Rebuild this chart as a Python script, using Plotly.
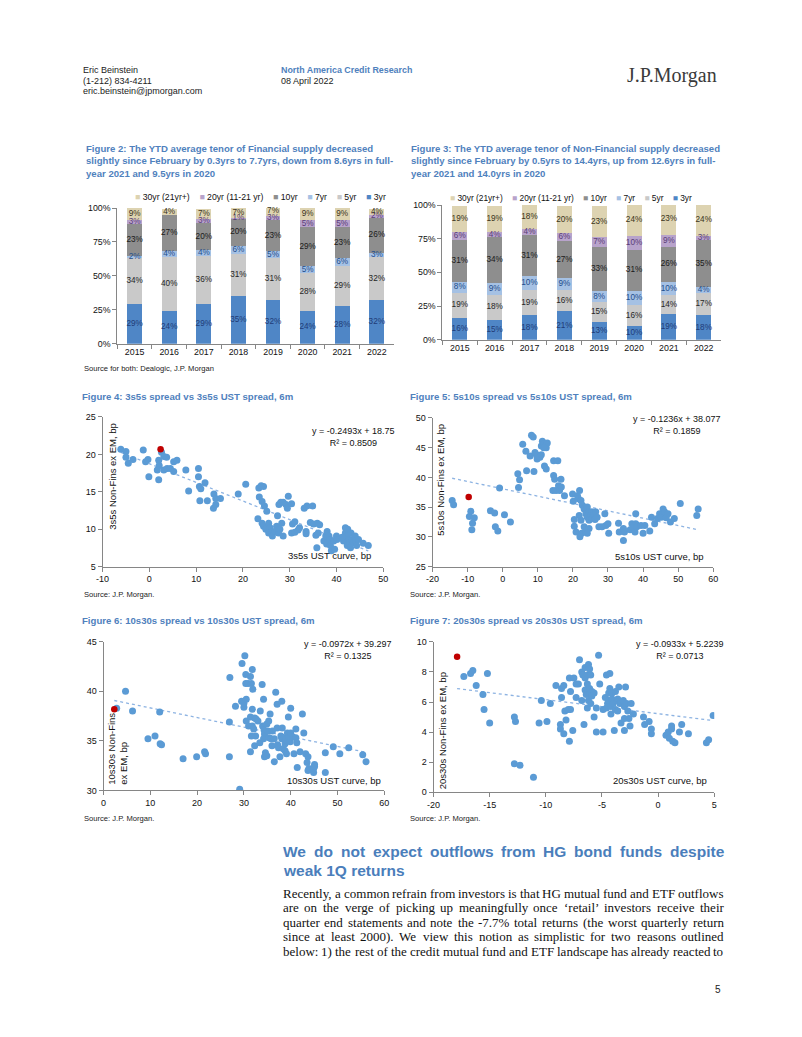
import plotly.graph_objects as go

W, H = 802, 1037

# ------------------------------------------------------------------ data
years = ["2015", "2016", "2017", "2018", "2019", "2020", "2021", "2022"]
tenor_names = ["3yr", "5yr", "7yr", "10yr", "20yr (11-21 yr)", "30yr (21yr+)"]
tenor_colors = ["#4f86c6", "#c9c9c9", "#a5c1e4", "#8e8e8e", "#b8a3cb", "#ddd3b1"]
label_colors = ["#1f3c78", "#262626", "#1f4e8c", "#1a1a1a", "#5a3d78", "#3b3320"]
pct_ticks = [0, 25, 50, 75, 100]

# Figure 2: Financial supply (% by tenor)
fin_3yr = [29, 24, 29, 35, 32, 24, 28, 32]
fin_5yr = [34, 40, 36, 31, 31, 28, 29, 32]
fin_7yr = [2, 4, 4, 6, 5, 5, 6, 3]
fin_10yr = [23, 27, 20, 20, 23, 29, 23, 26]
fin_20yr = [3, 0, 3, 1, 3, 5, 5, 2]
fin_30yr = [9, 4, 7, 7, 7, 9, 9, 4]

# Figure 3: Non-Financial supply (% by tenor)
nf_3yr = [16, 15, 18, 21, 13, 10, 19, 18]
nf_5yr = [19, 18, 19, 16, 15, 16, 14, 17]
nf_7yr = [8, 9, 10, 9, 8, 10, 10, 4]
nf_10yr = [31, 34, 31, 27, 33, 31, 26, 35]
nf_20yr = [6, 4, 4, 6, 7, 10, 9, 3]
nf_30yr = [19, 19, 18, 20, 23, 24, 23, 24]

# Figure 4: 3s5s
f4_x = [-6.1, -5.0, -5.0, -4.5, -3.5, -1.3, -0.8, -0.3, -0.1, 2.0, 2.1, 2.0, 1.7, 2.6, 3.1, 3.7, 3.1, 3.8, 4.5, 5.2,
        5.9, 5.2, 7.8, 8.4, 10.5, 10.5, 10.7, 11.0, 10.8, 11.9, 12.4, 13.8, 14.2, 13.7, 14.2, 15.2, 19.0, 20.6, 23.2, 23.4,
        23.9, 24.4, 23.5, 24.1, 24.6, 25.1, 24.1, 24.4, 24.9, 25.5, 25.8, 25.5, 26.2, 26.3, 26.9, 27.2, 27.6, 27.9, 28.3, 28.6,
        27.4, 27.7, 28.1, 28.6, 29.2, 29.7, 29.5, 30.4, 30.6, 31.1, 30.4, 31.1, 31.8, 32.1, 33.5, 33.5, 33.1, 33.7, 34.9, 34.4,
        35.1, 35.9, 36.4, 35.6, 36.1, 35.8, 37.3, 37.7, 38.0, 37.9, 38.4, 38.6, 38.7, 38.9, 39.4, 40.0, 40.1, 39.6, 41.5, 41.9,
        41.9, 42.3, 42.4, 42.3, 42.6, 42.8, 43.1, 43.3, 43.6, 44.0, 44.2, 44.3, 44.7, 45.7, 46.8, 43.0, 41.2]
f4_y = [20.7, 20.4, 19.6, 18.8, 19.3, 20.6, 19.0, 19.3, 17.0, 19.2, 18.5, 16.6, 17.9, 20.3, 19.7, 19.6, 17.9, 18.1, 18.1, 19.0,
        19.2, 17.7, 17.9, 15.1, 18.1, 17.0, 15.7, 15.4, 13.8, 16.2, 13.8, 14.7, 14.1, 12.8, 13.3, 14.1, 14.7, 16.0, 11.4, 15.5,
        15.8, 15.7, 14.3, 13.7, 13.1, 12.4, 10.8, 10.4, 10.0, 10.8, 10.2, 9.5, 9.7, 9.1, 9.7, 10.4, 9.5, 10.0, 10.8, 9.1,
        11.8, 13.3, 13.6, 13.6, 13.3, 14.4, 12.8, 13.4, 10.7, 11.0, 9.5, 9.6, 9.9, 10.2, 9.7, 9.4, 12.8, 13.1, 13.1, 10.9,
        10.7, 10.8, 10.6, 9.2, 9.5, 7.5, 8.4, 9.1, 9.7, 8.0, 9.1, 8.6, 7.8, 7.1, 8.4, 9.1, 8.6, 7.3, 8.4, 10.2,
        9.5, 9.1, 10.0, 7.8, 8.6, 8.2, 9.5, 8.6, 8.2, 9.1, 8.4, 7.8, 8.6, 8.1, 7.8, 7.5, 8.9]
f4_last_x = [2.4]
f4_last_y = [20.7]
f4_slope, f4_icpt, f4_r2 = -0.2493, 18.75, "0.8509"

# Figure 5: 5s10s
f5_x = [-14.4, -14.0, -9.5, -9.1, -8.6, -8.8, -8.1, -3.5, -2.3, -2.1, -1.4, -0.9, 0.5, 2.2, 4.5, 4.8, 4.3, 5.7, 6.6, 6.8,
        7.8, 8.2, 8.7, 8.9, 9.2, 9.6, 9.8, 10.6, 11.0, 11.3, 11.7, 12.4, 12.7, 11.9, 12.4, 11.0, 11.7, 14.5, 15.7, 14.5,
        14.8, 14.3, 15.2, 15.9, 16.6, 16.2, 16.7, 17.6, 19.9, 20.1, 20.4, 20.4, 20.9, 21.3, 21.6, 21.9, 22.3, 21.8, 22.3, 22.0,
        22.5, 22.7, 23.2, 23.2, 23.7, 23.7, 24.1, 24.1, 24.6, 24.6, 25.1, 25.4, 25.5, 26.0, 26.5, 26.3, 26.9, 24.6, 24.1, 27.4,
        28.3, 29.1, 29.4, 30.0, 30.2, 33.0, 33.2, 34.4, 34.4, 34.7, 36.3, 36.8, 37.2, 37.9, 37.9, 37.7, 38.2, 39.4, 40.0, 40.5,
        41.9, 42.4, 43.3, 44.1, 44.7, 45.2, 45.7, 46.1, 46.6, 47.1, 47.8, 48.9, 50.6, 55.3, 55.7]
f5_y = [36.1, 35.4, 33.4, 34.3, 32.3, 31.2, 33.2, 34.4, 34.0, 31.7, 31.0, 38.2, 33.7, 32.5, 38.3, 39.6, 40.6, 45.6, 44.4, 41.1,
        43.6, 47.1, 46.8, 41.0, 44.2, 43.8, 43.1, 43.4, 45.3, 46.1, 45.7, 45.0, 45.8, 41.9, 41.4, 43.8, 45.0, 42.8, 42.8, 40.3,
        39.7, 37.8, 37.8, 38.6, 39.7, 37.8, 38.4, 36.9, 37.2, 36.0, 32.9, 31.8, 30.8, 36.9, 36.4, 37.8, 36.1, 33.6, 32.8, 30.0,
        30.6, 35.3, 34.7, 31.7, 33.9, 30.8, 35.0, 33.3, 34.2, 32.8, 33.6, 34.2, 33.1, 33.8, 34.2, 32.9, 33.3, 31.4, 30.6, 31.7,
        31.7, 33.9, 31.9, 32.2, 30.6, 32.3, 30.8, 31.4, 29.4, 30.8, 31.2, 32.2, 31.7, 33.9, 32.2, 30.8, 31.7, 31.9, 30.6, 31.9,
        31.0, 33.3, 32.2, 33.1, 33.9, 33.3, 34.7, 34.2, 33.2, 33.9, 32.5, 33.1, 35.6, 33.6, 34.7]
f5_last_x = [-9.7]
f5_last_y = [36.7]
f5_slope, f5_icpt, f5_r2 = -0.1236, 38.077, "0.1859"

# Figure 6: 10s30s
f6_x = [2.8, 4.7, 6.2, 9.5, 11.0, 12.0, 12.1, 12.4, 17.0, 19.9, 21.6, 21.8, 27.0, 26.9, 26.9, 28.2, 29.1, 29.6, 30.2, 29.5,
        30.0, 30.0, 30.4, 30.5, 30.4, 30.9, 30.5, 31.0, 31.4, 31.8, 31.6, 31.9, 31.8, 31.4, 32.3, 32.6, 31.8, 32.1, 32.5, 31.6,
        31.4, 32.3, 33.0, 33.4, 33.5, 33.9, 34.2, 34.0, 34.3, 34.4, 34.2, 34.6, 34.4, 34.9, 34.9, 35.3, 35.1, 35.4, 35.8, 35.6,
        36.0, 36.1, 36.5, 36.5, 36.8, 37.1, 37.1, 37.2, 37.4, 37.7, 37.9, 38.1, 38.2, 38.1, 38.4, 38.6, 38.8, 38.8, 38.9, 39.1,
        39.3, 39.5, 39.6, 39.9, 40.0, 40.0, 40.4, 40.7, 41.1, 41.1, 41.3, 41.4, 42.0, 42.5, 42.8, 43.2, 43.5, 43.7, 43.7, 43.9,
        44.9, 44.9, 45.1, 45.1, 47.4, 47.4, 49.1, 50.5, 52.4, 55.4, 56.1]
f6_y = [38.3, 40.0, 38.0, 35.2, 35.5, 37.9, 34.7, 34.6, 33.2, 33.4, 33.9, 33.7, 41.4, 36.9, 33.4, 38.5, 30.1, 42.8, 43.6, 39.0,
        38.4, 38.8, 41.7, 39.2, 40.8, 40.8, 37.0, 36.5, 41.5, 42.2, 40.8, 40.2, 38.2, 37.4, 37.3, 37.2, 36.5, 36.2, 35.5, 35.5,
        33.9, 34.5, 37.0, 34.8, 38.0, 40.7, 39.2, 36.5, 36.1, 35.7, 35.2, 33.8, 33.4, 33.5, 36.7, 37.0, 36.0, 35.3, 35.2, 37.7,
        34.5, 36.0, 35.2, 32.9, 39.9, 38.7, 36.3, 34.6, 34.3, 33.4, 35.5, 39.0, 36.3, 35.2, 34.2, 35.3, 34.7, 34.0, 35.1, 33.7,
        35.8, 37.4, 35.4, 34.9, 38.3, 35.8, 35.4, 33.7, 36.2, 35.3, 34.8, 32.3, 33.9, 37.7, 35.8, 33.7, 32.8, 33.4, 32.0, 32.2,
        32.2, 31.8, 32.6, 32.4, 33.8, 31.8, 34.4, 33.7, 34.3, 33.6, 32.9]
f6_last_x = [2.3]
f6_last_y = [38.2]
f6_slope, f6_icpt, f6_r2 = -0.0972, 39.297, "0.1325"

# Figure 7: 20s30s
f7_x = [-17.3, -16.7, -16.5, -16.2, -15.2, -15.6, -15.5, -15.0, -12.8, -12.7, -12.8, -12.3, -11.1, -10.6, -10.4, -9.9, -9.6,
        -9.1, -8.7, -8.7, -8.6, -8.6, -8.4, -8.4, -8.3, -8.2, -8.0, -7.9, -7.9, -7.8, -7.8, -7.6, -7.5, -7.3, -7.3, -7.1,
        -7.0, -6.8, -6.8, -6.7, -6.6, -6.5, -6.5, -6.5, -6.4, -6.3, -6.3, -6.3, -6.2, -6.2, -6.1, -6.1, -6.1, -6.0, -6.0,
        -5.9, -5.9, -5.7, -5.7, -5.3, -5.2, -5.5, -5.5, -4.9, -4.9, -4.7, -4.6, -4.3, -4.6, -4.5, -4.4, -4.4, -4.3, -4.2,
        -4.2, -4.1, -4.1, -4.0, -3.9, -3.8, -3.8, -3.7, -3.6, -3.6, -3.5, -3.4, -3.3, -3.3, -3.1, -3.0, -3.0, -3.0, -2.9,
        -2.8, -2.7, -2.6, -2.5, -2.4, -2.2, -1.3, -1.2, -0.8, -0.6, -0.6, 0.7, 0.9, 1.0, 1.2, 1.2, 1.3, 1.5, 1.9, 2.1, 2.7,
        4.3, 4.5, 4.9]
f7_y = [7.7, 7.9, 8.1, 7.1, 7.9, 6.5, 5.5, 4.6, 5.0, 4.7, 1.9, 1.8, 1.0, 4.6, 6.1, 4.7, 5.9,
        7.1, 4.5, 4.2, 6.3, 6.9, 7.1, 3.9, 5.4, 4.8, 5.5, 7.6, 3.4, 5.5, 6.7, 4.1, 7.6, 6.3, 7.2, 7.2,
        8.8, 6.1, 8.0, 7.8, 4.5, 8.3, 7.6, 6.8, 6.5, 7.8, 5.6, 7.2, 6.1, 8.5, 8.2, 6.9, 6.5, 5.9, 7.8,
        6.7, 6.4, 5.0, 6.6, 9.1, 7.2, 5.6, 4.0, 4.0, 5.5, 6.3, 7.8, 7.9, 5.6, 5.9, 6.6, 6.1, 6.9, 5.7,
        5.2, 6.2, 6.6, 5.9, 4.1, 6.7, 5.5, 6.1, 6.2, 5.4, 7.0, 5.9, 4.6, 6.0, 6.1, 5.7, 4.9, 4.1, 7.0,
        5.9, 5.4, 4.9, 4.4, 5.9, 5.2, 5.0, 4.5, 4.7, 4.2, 3.9, 3.8, 4.0, 3.6, 4.2, 4.4, 3.4, 3.3, 4.0, 4.5, 3.9,
        3.3, 3.5, 5.1]
f7_last_x = [-17.9]
f7_last_y = [9.0]
f7_slope, f7_icpt, f7_r2 = -0.0933, 5.2239, "0.0713"

# ------------------------------------------------------------------ styling
SANS = "Liberation Sans, Arial, sans-serif"
SERIF = "Liberation Serif, Times New Roman, serif"
BLUE_T = "#4f81bd"
AXIS_C = "#868686"
PT_C = "#5b9bd5"
LAST_C = "#c00000"
TREND_C = "#8db3e2"


def dx(a, b):
    return [a / W, b / W]


def dy(top, bot):
    return [1 - bot / H, 1 - top / H]


fig = go.Figure()
annotations = []


def ann(text, x, y, size=9, color="#222", xanchor="left", yanchor="middle", family=SANS,
        textangle=0, align="left"):
    annotations.append(dict(text=text, x=x / W, y=1 - y / H, xref="paper", yref="paper",
                            showarrow=False, xanchor=xanchor, yanchor=yanchor, align=align,
                            textangle=textangle, borderpad=0,
                            font=dict(family=family, size=size, color=color)))


# ------------------------------------------------------------------ bar charts
def add_bars(series, xa, ya):
    cum = [0] * len(years)
    for name, vals, col, lcol in zip(tenor_names, series, tenor_colors, label_colors):
        fig.add_trace(go.Bar(x=years, y=vals, name=name, marker=dict(color=col, line=dict(width=0)),
                             xaxis=xa, yaxis=ya, showlegend=False))
        mids = [c + v / 2 for c, v in zip(cum, vals)]
        txt = [f"{v}%" if v > 0 else "" for v in vals]
        fig.add_trace(go.Scatter(x=years, y=mids, text=txt, mode="text", xaxis=xa, yaxis=ya,
                                 textfont=dict(family=SANS, size=8.2, color=lcol),
                                 showlegend=False, hoverinfo="skip", cliponaxis=False))
        cum = [c + v for c, v in zip(cum, vals)]


add_bars([fin_3yr, fin_5yr, fin_7yr, fin_10yr, fin_20yr, fin_30yr], "x", "y")
add_bars([nf_3yr, nf_5yr, nf_7yr, nf_10yr, nf_20yr, nf_30yr], "x2", "y2")


# ------------------------------------------------------------------ scatters
def add_scatter(xs, ys, lx, ly, slope, icpt, xa, ya):
    x0, x1 = min(xs + lx), max(xs + lx)
    fig.add_trace(go.Scatter(x=[x0, x1], y=[slope * x0 + icpt, slope * x1 + icpt], mode="lines",
                             line=dict(color=TREND_C, width=1.3, dash="dot"), xaxis=xa, yaxis=ya,
                             showlegend=False, hoverinfo="skip"))
    fig.add_trace(go.Scatter(x=xs, y=ys, mode="markers", marker=dict(size=7, color=PT_C),
                             xaxis=xa, yaxis=ya, showlegend=False))
    fig.add_trace(go.Scatter(x=lx, y=ly, mode="markers", marker=dict(size=6.5, color=LAST_C),
                             xaxis=xa, yaxis=ya, showlegend=False))


add_scatter(f4_x, f4_y, f4_last_x, f4_last_y, f4_slope, f4_icpt, "x3", "y3")
add_scatter(f5_x, f5_y, f5_last_x, f5_last_y, f5_slope, f5_icpt, "x4", "y4")
add_scatter(f6_x, f6_y, f6_last_x, f6_last_y, f6_slope, f6_icpt, "x5", "y5")
add_scatter(f7_x, f7_y, f7_last_x, f7_last_y, f7_slope, f7_icpt, "x6", "y6")

# ------------------------------------------------------------------ axes
common = dict(showline=True, linecolor=AXIS_C, linewidth=1, ticks="outside", ticklen=4,
              tickcolor=AXIS_C, showgrid=False, zeroline=False,
              tickfont=dict(family=SANS, size=9, color="#111"))

bar_x = dict(common, type="category", tickson="boundaries", tickfont=dict(family=SANS, size=8.8, color="#111"))
bar_y = dict(common, range=[0, 100], tickmode="array", tickvals=pct_ticks,
             ticktext=[f"{v}%" for v in pct_ticks], tickfont=dict(family=SANS, size=8.8, color="#111"))


def lin(lo, hi, dt):
    vals = list(range(lo, hi + 1, dt))
    return dict(common, range=[lo, hi], tickmode="array", tickvals=vals, ticktext=[str(v) for v in vals])


layout_axes = dict(
    xaxis=dict(bar_x, domain=dx(112, 393), anchor="y"),
    yaxis=dict(bar_y, domain=dy(205, 342), anchor="x"),
    xaxis2=dict(bar_x, domain=dx(442, 725), anchor="y2"),
    yaxis2=dict(bar_y, domain=dy(202, 338), anchor="x2"),
    xaxis3=dict(lin(-10, 50, 10), domain=dx(97, 382), anchor="y3"),
    yaxis3=dict(lin(5, 25, 5), domain=dy(416, 567), anchor="x3"),
    xaxis4=dict(lin(-20, 60, 10), domain=dx(432, 717), anchor="y4"),
    yaxis4=dict(lin(25, 50, 5), domain=dy(417, 567), anchor="x4"),
    xaxis5=dict(lin(0, 60, 10), domain=dx(98, 383), anchor="y5"),
    yaxis5=dict(lin(30, 45, 5), domain=dy(643, 793), anchor="x5"),
    xaxis6=dict(lin(-20, 5, 5), domain=dx(433, 718), anchor="y6"),
    yaxis6=dict(lin(0, 10, 2), domain=dy(643, 795), anchor="x6"),
)

# ------------------------------------------------------------------ page text
ann("Eric Beinstein", 76, 66)
ann("(1-212) 834-4211", 76, 76.5)
ann("eric.beinstein@jpmorgan.com", 76, 87)
ann("<b>North America Credit Research</b>", 277, 66, size=8.9, color=BLUE_T)
ann("08 April 2022", 277, 76.5)
ann("J.P.Morgan", 628, 71, size=20, color="#3a3a3a", family=SERIF)

ann("<b>Figure 2: The YTD average tenor of Financial supply decreased<br>"
    "slightly since February by 0.3yrs to 7.7yrs, down from 8.6yrs in full-<br>"
    "year 2021 and 9.5yrs in 2020</b>", 79, 158, size=9.6, color=BLUE_T)
ann("<b>Figure 3: The YTD average tenor of Non-Financial supply decreased<br>"
    "slightly since February by 0.5yrs to 14.4yrs, up from 12.6yrs in full-<br>"
    "year 2021 and 14.0yrs in 2020</b>", 409, 158, size=9.6, color=BLUE_T)

gap = "&nbsp;" * 4
legend_txt = gap.join(f"<span style='color:{c}'>■</span> {n}" for n, c in
                      zip(reversed(tenor_names), reversed(tenor_colors)))
ann(legend_txt, 129, 194, size=8.7, color="#111")
ann(legend_txt, 449, 194.5, size=8.4, color="#111")
ann("Source for both: Dealogic, J.P. Morgan", 77, 367, size=7.6)

ann("<b>Figure 4: 3s5s spread vs 3s5s UST spread, 6m</b>", 75, 395, size=9.6, color=BLUE_T)
ann("<b>Figure 5: 5s10s spread vs 5s10s UST spread, 6m</b>", 408, 395, size=9.6, color=BLUE_T)
ann("<b>Figure 6: 10s30s spread vs 10s30s UST spread, 6m</b>", 75, 621, size=9.6, color=BLUE_T)
ann("<b>Figure 7: 20s30s spread vs 20s30s UST spread, 6m</b>", 408, 621, size=9.6, color=BLUE_T)
for xs_, ys_ in [(77, 595), (408, 595), (77, 821), (408, 821)]:
    ann("Source: J.P. Morgan.", xs_, ys_, size=7.6)

for slope, icpt, r2, cx, cy in [(f4_slope, f4_icpt, f4_r2, 352, 436),
                                (f5_slope, f5_icpt, f5_r2, 680, 424),
                                (f6_slope, f6_icpt, f6_r2, 346, 651),
                                (f7_slope, f7_icpt, f7_r2, 683, 651)]:
    ann(f"y = {slope}x + {icpt}<br>R² = {r2}", cx, cy, size=9, color="#111",
        xanchor="center", align="center")

ann("3s5s UST curve, bp", 327, 556, size=9.5, color="#111", xanchor="center")
ann("5s10s UST curve, bp", 662, 557, size=9.5, color="#111", xanchor="center")
ann("10s30s UST curve, bp", 332, 783, size=9.5, color="#111", xanchor="center")
ann("20s30s UST curve, bp", 663, 783, size=9.5, color="#111", xanchor="center")

ann("3s5s Non-Fins ex EM, bp", 107, 476, size=9.5, color="#111", xanchor="center",
    yanchor="middle", textangle=-90)
ann("5s10s Non-Fins ex EM, bp", 440, 479, size=9.5, color="#111", xanchor="center",
    yanchor="middle", textangle=-90)
ann("10s30s Non-Fins<br>ex EM, bp", 112, 788, size=9.5, color="#111", xanchor="center",
    yanchor="bottom", textangle=-90, align="left")
ann("20s30s Non-Fins ex EM, bp", 443, 733, size=9.5, color="#111", xanchor="center",
    yanchor="middle", textangle=-90)

# ------------------------------------------------------------------ justified body text
TIMES = {' ': 250, 'a': 444, 'b': 500, 'c': 444, 'd': 500, 'e': 444, 'f': 333, 'g': 500, 'h': 500, 'i': 278,
         'j': 278, 'k': 500, 'l': 278, 'm': 778, 'n': 500, 'o': 500, 'p': 500, 'q': 500, 'r': 333, 's': 389,
         't': 278, 'u': 500, 'v': 500, 'w': 722, 'x': 500, 'y': 500, 'z': 444, 'A': 722, 'B': 667, 'C': 667,
         'D': 722, 'E': 611, 'F': 556, 'G': 722, 'H': 722, 'I': 333, 'J': 389, 'K': 722, 'L': 611, 'M': 889,
         'N': 722, 'O': 722, 'P': 556, 'Q': 722, 'R': 667, 'S': 556, 'T': 611, 'U': 722, 'V': 722, 'W': 944,
         '.': 250, ',': 250, '-': 333, '(': 333, ')': 333, '%': 833, ':': 278, '‘': 333, '’': 333}
ARIALB = {' ': 278, 'a': 556, 'b': 611, 'c': 556, 'd': 611, 'e': 556, 'f': 333, 'g': 611, 'h': 611, 'i': 278,
          'j': 278, 'k': 556, 'l': 278, 'm': 889, 'n': 611, 'o': 611, 'p': 611, 'q': 611, 'r': 389, 's': 556,
          't': 333, 'u': 611, 'v': 556, 'w': 778, 'x': 556, 'y': 556, 'z': 500, 'G': 778, 'H': 722, 'Q': 778,
          'W': 944}


def wid(s, table, size):
    return sum(table.get(ch, 500) for ch in s) * size / 1000.0


def line_words(line, x0, x1, y, size, table, family, color, bold=False):
    words = line.split(" ")
    ws = [wid(w, table, size) for w in words]
    g = (x1 - x0 - sum(ws)) / (len(words) - 1)
    x = x0
    for w, wd in zip(words, ws):
        ann(f"<b>{w}</b>" if bold else w, x, y, size=size, color=color, family=family)
        x += wd + g


heading = ["We do not expect outflows from HG bond funds despite", "weak 1Q returns"]
body = ["Recently, a common refrain from investors is that HG mutual fund and ETF outflows",
        "are on the verge of picking up meaningfully once ‘retail’ investors receive their",
        "quarter end statements and note the -7.7% total returns (the worst quarterly return",
        "since at least 2000). We view this notion as simplistic for two reasons outlined",
        "below: 1) the rest of the credit mutual fund and ETF landscape has already reacted to"]
TX0, TX1 = 279, 726
line_words(heading[0], TX0, TX1, 855, 15.5, ARIALB, SANS, "#4a7ebb", bold=True)
ann(f"<b>{heading[1]}</b>", TX0, 874, size=15.5, color="#4a7ebb")
for i, ln in enumerate(body):
    line_words(ln, TX0, TX1, 897 + i * 14.6, 13, TIMES, SERIF, "#111")

ann("5", 726, 994, size=10, color="#222", xanchor="right")

fig.update_layout(
    width=W, height=H, margin=dict(l=0, r=0, t=0, b=0),
    paper_bgcolor="white", plot_bgcolor="white",
    barmode="stack", bargap=0.57, showlegend=False,
    annotations=annotations, **layout_axes,
)

fig.write_html("out.html", config={"displayModeBar": False},
               post_script="document.body.style.margin='0';")
